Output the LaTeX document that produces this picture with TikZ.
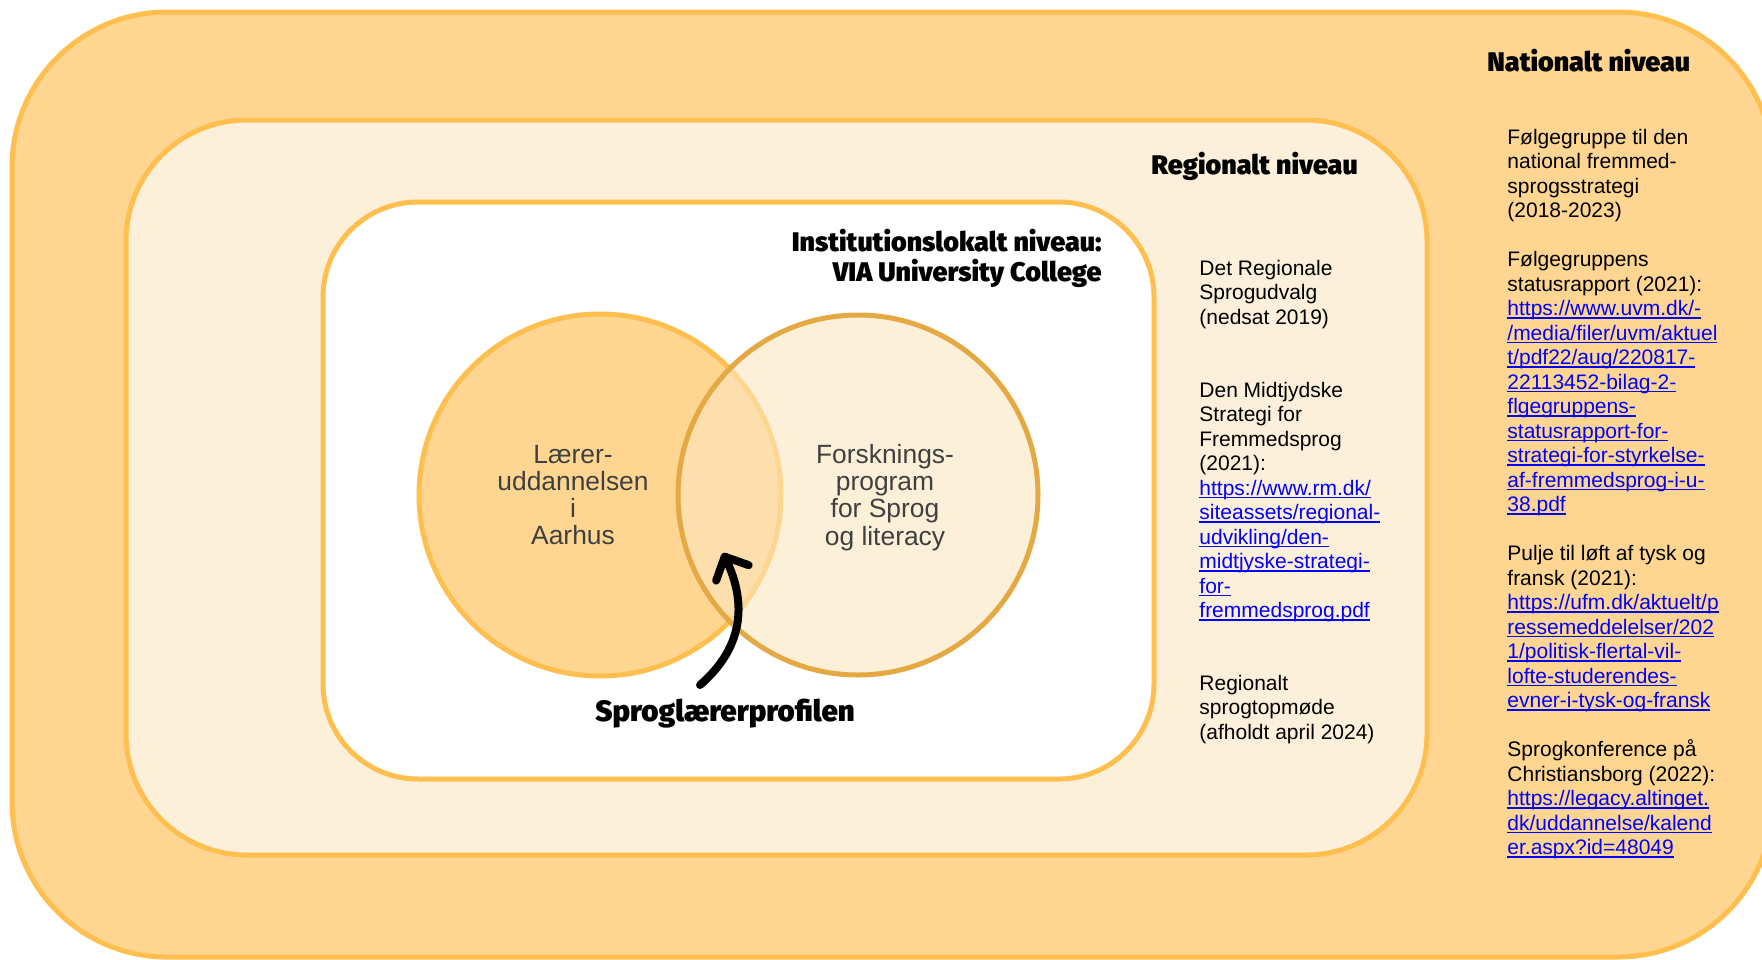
\documentclass[tikz,border=0pt]{standalone}
\usepackage{fontspec}
\setmainfont{Liberation Sans}
\newfontfamily\headfont{Fira Sans}[UprightFont={* Black}]
\usetikzlibrary{arrows.meta}
\definecolor{outerfill}{HTML}{FED691}
\definecolor{midfill}{HTML}{FDF0DA}
\definecolor{ringline}{HTML}{FFBF4F}
\definecolor{rightline}{HTML}{E5A944}
\definecolor{rightfill}{RGB}{252,230,190}
\definecolor{linkblue}{HTML}{0000FF}
\definecolor{circtext}{HTML}{404040}
\newcommand\lnk[1]{\leavevmode{\color{linkblue}\setbox0=\hbox{#1}\rlap{\rule[-1.5pt]{\wd0}{0.6pt}}\box0}}
\newcommand\bodytext[1]{\parbox[t]{8cm}{\raggedright\fontsize{10.5pt}{12.25pt}\selectfont #1}}
\tikzset{
  level/.style={draw=ringline, line width=2.5pt},
  heading/.style={inner sep=0pt, font=\headfont\fontsize{13.45pt}{15pt}\selectfont},
  body/.style={inner sep=0pt, anchor=base west},
  circtxt/.style={inner sep=0pt, align=center, text=circtext, font=\fontsize{13.2pt}{13.6pt}\selectfont},
}
\begin{document}
\begin{tikzpicture}[x=0.5pt,y=-0.5pt]
\useasboundingbox (0,0) rectangle (1762,959);
\clip (0,0) rectangle (1762,959);
% levels
\draw[level, fill=outerfill, rounded corners=77.5pt] (12,12) rectangle (1773,957);
\draw[level, fill=midfill, rounded corners=60.5pt] (126,120) rectangle (1427,855);
\draw[level, fill=white, rounded corners=47.5pt] (323,202) rectangle (1154,779);
% venn
\node[circle, inner sep=0pt, minimum size=181pt, draw=ringline, line width=2.5pt, fill=outerfill] (lc) at (600,495) {};
\node[circle, inner sep=0pt, minimum size=180pt, draw=rightline, line width=2.5pt, fill=rightfill, fill opacity=0.6] (rc) at (858,495) {};
\node[circtxt] (lctxt) at (573,495) {Lærer-\\uddannelsen\\i\\Aarhus};
\node[circtxt] (rctxt) at (885,497.5) {Forsknings-\\program\\for Sprog\\og literacy};
% headings
\node[heading, anchor=base west] (natH) at (1487,71) {Nationalt niveau};
\node[heading, anchor=base west] (regH) at (1151,174) {Regionalt niveau};
\node[heading, anchor=base east] (instH) at (1102,251) {\parbox[t]{8cm}{\raggedleft\headfont\fontsize{13.45pt}{15pt}\selectfont Institutionslokalt niveau:\\VIA University College}};
\node[heading, anchor=base, font=\headfont\fontsize{14.7pt}{16pt}\selectfont] (profH) at (725,721) {Sproglærerprofilen};
% arrow
\coordinate (atail) at (700,685);
\coordinate (ahead) at (723,553);
\draw[line width=4pt, line cap=round, -{Straight Barb[round, length=9pt, width=18pt]}] (atail) .. controls (752,640) and (741,591) .. (ahead);
% regional column
\node[body] (reg1) at (1199,275) {\bodytext{Det Regionale\\Sprogudvalg\\(nedsat 2019)}};
\node[body] (reg2) at (1199,397) {\bodytext{Den Midtjydske\\Strategi for\\Fremmedsprog\\(2021):\\\lnk{https://www.rm.dk/}\\\lnk{siteassets/regional-}\\\lnk{udvikling/den-}\\\lnk{midtjyske-strategi-}\\\lnk{for-}\\\lnk{fremmedsprog.pdf}}};
\node[body] (reg3) at (1199,690) {\bodytext{Regionalt\\sprogtopmøde\\(afholdt april 2024)}};
% national column
\node[body] (nat1) at (1507,144) {\bodytext{Følgegruppe til den\\national fremmed-\\sprogsstrategi\\(2018-2023)}};
\node[body] (nat2) at (1507,266.5) {\bodytext{Følgegruppens\\statusrapport (2021):\\\lnk{https://www.uvm.dk/-}\\\lnk{/media/filer/uvm/aktuel}\\\lnk{t/pdf22/aug/220817-}\\\lnk{22113452-bilag-2-}\\\lnk{flgegruppens-}\\\lnk{statusrapport-for-}\\\lnk{strategi-for-styrkelse-}\\\lnk{af-fremmedsprog-i-u-}\\\lnk{38.pdf}}};
\node[body] (nat3) at (1507,560.5) {\bodytext{Pulje til løft af tysk og\\fransk (2021):\\\lnk{https://ufm.dk/aktuelt/p}\\\lnk{ressemeddelelser/202}\\\lnk{1/politisk-flertal-vil-}\\\lnk{lofte-studerendes-}\\\lnk{evner-i-tysk-og-fransk}}};
\node[body] (nat4) at (1507,756.5) {\bodytext{Sprogkonference på\\Christiansborg (2022):\\\lnk{https://legacy.altinget.}\\\lnk{dk/uddannelse/kalend}\\\lnk{er.aspx?id=48049}}};
\end{tikzpicture}
\end{document}
